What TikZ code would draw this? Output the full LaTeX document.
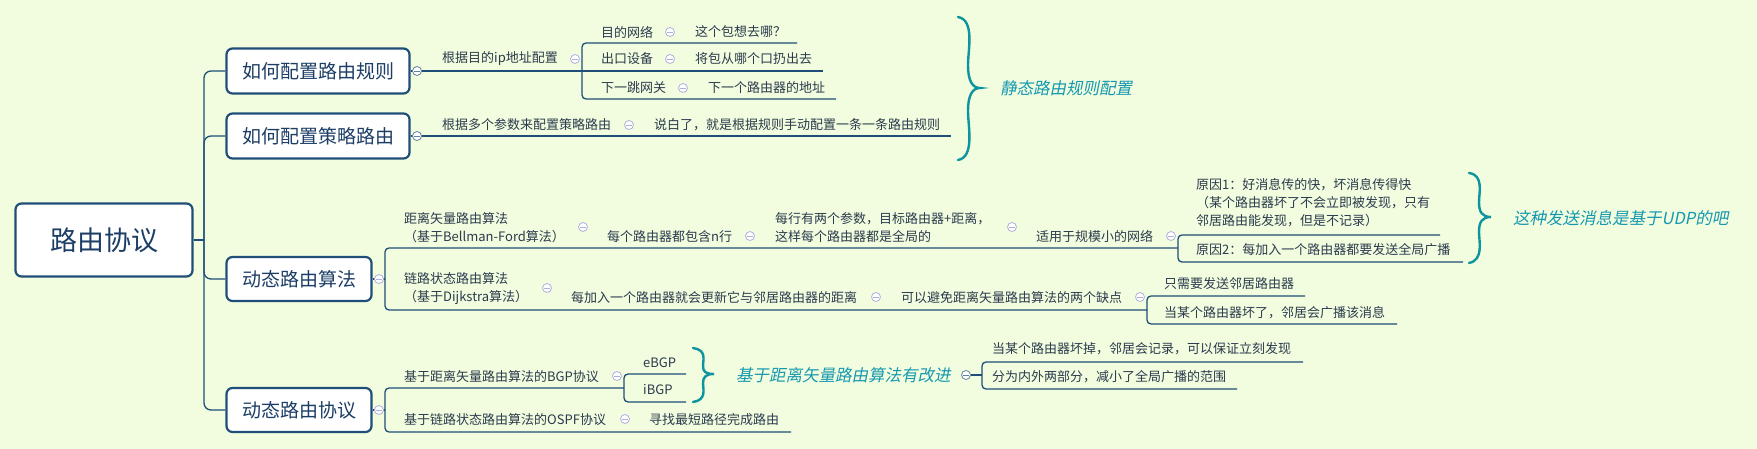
\documentclass[tikz,border=0pt]{standalone}
\usepackage{fontspec}
\setmainfont{Noto Sans CJK SC}
\newfontfamily\slcjk[FakeSlant=0.2]{Noto Sans CJK SC}
\definecolor{mapbg}{RGB}{241,253,222}
\definecolor{mapblue}{RGB}{31,78,121}
\definecolor{maptopic}{RGB}{28,62,102}
\definecolor{maptext}{RGB}{44,58,78}
\definecolor{mapteal}{RGB}{14,148,158}
\definecolor{mapnote}{RGB}{22,152,176}
\definecolor{mapfold}{RGB}{176,176,222}
\usetikzlibrary{calc}

\begin{document}
\begin{tikzpicture}[x=1pt, y=-1pt,
  topic/.style={draw=mapblue, line width=2.2pt, fill=white, rounded corners=6pt,
                text=maptopic, inner sep=0pt, font=\fontsize{19}{22}\selectfont},
  leaf/.style={anchor=west, inner sep=0pt, align=left, text=maptext,
               font=\fontsize{13}{18}\selectfont},
  note/.style={anchor=west, inner sep=0pt, text=mapnote, font=\slcjk\fontsize{16.5}{20}\selectfont},
  link/.style={draw=mapblue, line width=1.3pt},
  elbow/.style={link, rounded corners=4pt},
  fold/.style={circle, draw=#1, fill=white, line width=0.8pt, minimum size=9pt, inner sep=0pt,
               path picture={\draw[#1, line width=0.9pt]
                 ([xshift=-2.6pt]path picture bounding box.center) -- ([xshift=2.6pt]path picture bounding box.center);}},
  fold/.default=mapfold,
  brace/.style={draw=mapteal, line width=2.4pt, line cap=round}]

  \useasboundingbox[fill=mapbg] (0,0) rectangle (1757,449);

  % main topics
  \node[topic, minimum width=177pt, minimum height=73pt, font=\fontsize{27}{30}\selectfont] (root) at (104,240) {路由协议};
  \node[topic, minimum width=183pt, minimum height=45pt] (how1) at (318,71) {如何配置路由规则};
  \node[topic, minimum width=183pt, minimum height=45pt] (how2) at (318,136) {如何配置策略路由};
  \node[topic, minimum width=145pt, minimum height=44pt] (algo) at (299,279) {动态路由算法};
  \node[topic, minimum width=145pt, minimum height=44pt] (proto) at (299,410) {动态路由协议};

  \coordinate (trunk) at (204,240);
  \draw[link] (root.east) -- (trunk);
  \foreach \c in {how1,how2,algo,proto}
    \draw[link, rounded corners=7pt] (trunk) |- (\c.west);

  % static routing
  \coordinate (j1) at (582,71);
  \coordinate (e1a) at (797,43);
  \coordinate (e1b) at (823,71);
  \coordinate (e1c) at (836,99);
  \draw[link] (how1.east) -- (e1b);
  \draw[elbow] (j1) |- (e1a);
  \draw[elbow] (j1) |- (e1c);
  \coordinate (e2) at (951,136);
  \draw[link] (how2.east) -- (e2);

  \node[leaf] (byip) at (442,59) {根据目的ip地址配置};
  \node[leaf] (dst) at (601,32) {目的网络};
  \node[leaf] (dstq) at (695,32) {这个包想去哪？};
  \node[leaf] (dev) at (601,59) {出口设备};
  \node[leaf] (devq) at (695,59) {将包从哪个口扔出去};
  \node[leaf] (hop) at (601,88) {下一跳网关};
  \node[leaf] (hopq) at (708,88) {下一个路由器的地址};
  \node[leaf] (bypar) at (442,125) {根据多个参数来配置策略路由};
  \node[leaf] (byhand) at (654,125) {说白了，就是根据规则手动配置一条一条路由规则};

  \draw[brace] (958,17) .. controls (975,20) and (968,50) .. (968,65)
    .. controls (968,80) and (972,88) .. (980,88)
    .. controls (972,88) and (968,96) .. (968,111)
    .. controls (968,126) and (975,157) .. (958,160);
  \node[note] (static) at (1000,88) {静态路由规则配置};

  % dynamic routing algorithms
  \coordinate (j3) at (385,279);
  \coordinate (j31) at (1178,248);
  \coordinate (j32) at (1147,310);
  \coordinate (e31a) at (1440,235);
  \coordinate (e31b) at (1463,262);
  \coordinate (e32a) at (1305,296);
  \coordinate (e32b) at (1397,324);
  \draw[link] (algo.east) -- (j3);
  \draw[elbow] (j3) |- (j31);
  \draw[elbow] (j3) |- (j32);
  \draw[elbow] (j31) |- (e31a);
  \draw[elbow] (j31) |- (e31b);
  \draw[elbow] (j32) |- (e32a);
  \draw[elbow] (j32) |- (e32b);

  \node[leaf] (dv) at (404,228) {距离矢量路由算法\\（基于Bellman-Ford算法）};
  \node[leaf] (nrow) at (607,237) {每个路由器都包含n行};
  \node[leaf] (param) at (775,228) {每行有两个参数，目标路由器+距离，\\这样每个路由器都是全局的};
  \node[leaf] (small) at (1036,237) {适用于规模小的网络};
  \node[leaf] (why1) at (1196,203) {原因1：好消息传的快，坏消息传得快\\（某个路由器坏了不会立即被发现，只有\\邻居路由能发现，但是不记录）};
  \node[leaf] (why2) at (1196,250) {原因2：每加入一个路由器都要发送全局广播};
  \node[leaf] (ls) at (404,289) {链路状态路由算法\\（基于Dijkstra算法）};
  \node[leaf] (upd) at (571,298) {每加入一个路由器就会更新它与邻居路由器的距离};
  \node[leaf] (avoid) at (901,298) {可以避免距离矢量路由算法的两个缺点};
  \node[leaf] (nbr) at (1164,284) {只需要发送邻居路由器};
  \node[leaf] (bcast) at (1164,313) {当某个路由器坏了，邻居会广播该消息};

  \draw[brace] (1469,173) .. controls (1484,175) and (1479,193) .. (1479,202)
    .. controls (1479,212) and (1482,217) .. (1491,217)
    .. controls (1482,217) and (1479,222) .. (1479,232)
    .. controls (1479,241) and (1484,260) .. (1469,263);
  \node[note] (udp) at (1513,218) {这种发送消息是基于UDP的吧};

  % dynamic routing protocols
  \coordinate (j4) at (385,410);
  \coordinate (j41) at (624,388);
  \coordinate (e41a) at (686,374);
  \coordinate (e41b) at (686,402);
  \coordinate (e42) at (791,432);
  \draw[link] (proto.east) -- (j4);
  \draw[elbow] (j4) |- (j41);
  \draw[elbow] (j4) |- (e42);
  \draw[elbow] (j41) |- (e41a);
  \draw[elbow] (j41) |- (e41b);

  \node[leaf] (bgp) at (404,377) {基于距离矢量路由算法的BGP协议};
  \node[leaf] (ebgp) at (643,363) {eBGP};
  \node[leaf] (ibgp) at (643,390) {iBGP};
  \node[leaf] (ospf) at (404,420) {基于链路状态路由算法的OSPF协议};
  \node[leaf] (spf) at (649,420) {寻找最短路径完成路由};

  \draw[brace] (693,348) .. controls (707,350) and (703,360) .. (703,366)
    .. controls (703,372) and (706,374) .. (714,374)
    .. controls (706,374) and (703,377) .. (703,383)
    .. controls (703,389) and (707,400) .. (693,402);
  \node[note] (better) at (736,375) {基于距离矢量路由算法有改进};

  \coordinate (j5) at (982,375);
  \coordinate (e5a) at (1303,362);
  \coordinate (e5b) at (1237,389);
  \node[fold=mapblue!70] (fbetter) at (966,375) {};
  \draw[link] (fbetter) -- (j5);
  \draw[elbow] (j5) |- (e5a);
  \draw[elbow] (j5) |- (e5b);
  \node[leaf] (rec) at (992,349) {当某个路由器坏掉，邻居会记录，可以保证立刻发现};
  \node[leaf] (half) at (992,377) {分为内外两部分，减小了全局广播的范围};

  % fold markers
  \node[fold=mapblue!70] (fhow1) at (417,71) {};
  \node[fold=mapblue!70] (fhow2) at (417,136) {};
  \node[fold] (falgo) at (379,279) {};
  \node[fold] (fproto) at (379,410) {};
  \node[fold] (fbyip) at (575,59) {};
  \node[fold] (fdst) at (670,32) {};
  \node[fold] (fdev) at (670,59) {};
  \node[fold] (fhop) at (683,88) {};
  \node[fold] (fbypar) at (629,125) {};
  \node[fold] (fdv) at (583,227) {};
  \node[fold] (fnrow) at (750,236) {};
  \node[fold] (fparam) at (1012,227) {};
  \node[fold] (fsmall) at (1171,236) {};
  \node[fold] (fls) at (547,288) {};
  \node[fold] (fupd) at (876,297) {};
  \node[fold] (favoid) at (1140,297) {};
  \node[fold] (fbgp) at (617,376) {};
  \node[fold] (fospf) at (625,419) {};
\end{tikzpicture}
\end{document}
